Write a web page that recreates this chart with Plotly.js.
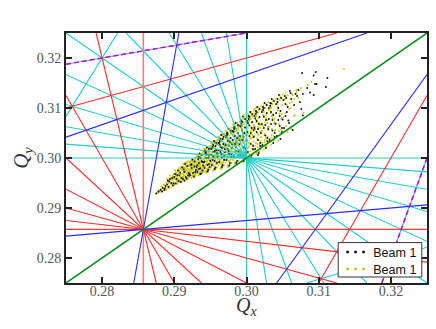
<!DOCTYPE html>
<html>
<head>
<meta charset="utf-8">
<script src="https://cdn.plot.ly/plotly-3.0.1.min.js"></script>
<style>body{margin:0;background:#fff}</style>
</head>
<body>
<div id="plot" style="width:436px;height:329px"></div>
<script>
// Tune footprint, beam 1
var yellowX = [
.2876,.2879,.2881,.2883,.2884,.2886,.2887,.2888,.2889,.2880,.2885,.2878,.2889,.2882,.2887,
.2891,.2893,.2895,.2897,.2899,.2890,.2892,.2894,.2896,.2898,.2891,.2893,.2895,.2897,.2899,.2892,.2894,.2896,.2898,.2900,
.2901,.2903,.2905,.2907,.2909,.2902,.2904,.2906,.2908,.2910,.2901,.2903,.2905,.2907,.2909,.2902,.2904,.2906,.2908,.2910,.2901,.2904,.2906,.2908,.2909,
.2911,.2913,.2915,.2917,.2919,.2912,.2914,.2916,.2918,.2920,.2911,.2913,.2915,.2917,.2919,.2912,.2914,.2916,.2918,.2920,.2911,.2913,.2915,.2917,.2919,.2912,.2914,.2916,.2918,.2920,
.2921,.2923,.2925,.2927,.2929,.2922,.2924,.2926,.2928,.2930,.2921,.2923,.2925,.2927,.2929,.2922,.2924,.2926,.2928,.2930,.2921,.2923,.2925,.2927,.2929,.2922,.2924,.2926,.2928,.2930,.2923,.2927,
.2931,.2933,.2935,.2937,.2939,.2932,.2934,.2936,.2938,.2940,.2931,.2933,.2935,.2937,.2939,.2932,.2934,.2936,.2938,.2940,.2931,.2933,.2935,.2937,.2939,.2932,.2934,.2936,.2938,.2940,.2933,.2935,.2937,.2939,.2934,
.2941,.2943,.2945,.2947,.2949,.2942,.2944,.2946,.2948,.2950,.2941,.2943,.2945,.2947,.2949,.2942,.2944,.2946,.2948,.2950,.2941,.2943,.2945,.2947,.2949,.2942,.2944,.2946,.2948,.2950,.2943,.2945,.2947,.2949,.2946,
.2951,.2953,.2955,.2957,.2959,.2952,.2954,.2956,.2958,.2960,.2951,.2953,.2955,.2957,.2959,.2952,.2954,.2956,.2958,.2960,.2951,.2953,.2955,.2957,.2959,.2952,.2954,.2956,.2958,.2960,.2953,.2955,.2957,.2959,.2954,.2956,.2958,.2952,
.2961,.2963,.2965,.2967,.2969,.2962,.2964,.2966,.2968,.2970,.2961,.2963,.2965,.2967,.2969,.2962,.2964,.2966,.2968,.2970,.2961,.2963,.2965,.2967,.2969,.2962,.2964,.2966,.2968,.2970,.2963,.2965,.2967,.2969,.2964,.2966,.2968,.2962,
.2971,.2973,.2975,.2977,.2979,.2972,.2974,.2976,.2978,.2980,.2971,.2973,.2975,.2977,.2979,.2972,.2974,.2976,.2978,.2980,.2971,.2973,.2975,.2977,.2979,.2972,.2974,.2976,.2978,.2980,.2973,.2975,.2977,.2979,.2974,.2976,.2978,.2972,
.2981,.2983,.2985,.2987,.2989,.2982,.2984,.2986,.2988,.2990,.2981,.2983,.2985,.2987,.2989,.2982,.2984,.2986,.2988,.2990,.2981,.2983,.2985,.2987,.2989,.2982,.2984,.2986,.2988,.2990,.2983,.2985,.2987,.2989,.2984,.2986,
.2991,.2993,.2995,.2997,.2999,.2992,.2994,.2996,.2998,.3000,.2991,.2993,.2995,.2997,.2999,.2992,.2994,.2996,.2998,.3000,.2991,.2993,.2995,.2997,.2999,.2992,.2994,.2996,.2998,.3000,.2993,.2995,.2997,.2999,
.3001,.3003,.3005,.3007,.3009,.3002,.3004,.3006,.3008,.3010,.3001,.3003,.3005,.3007,.3009,.3002,.3004,.3006,.3008,.3010,.3001,.3003,.3005,.3007,.3009,.3002,.3004,.3006,.3008,.3010,
.3011,.3013,.3015,.3017,.3019,.3012,.3014,.3016,.3018,.3020,.3011,.3013,.3015,.3017,.3019,.3012,.3014,.3016,.3018,.3020,.3011,.3013,.3015,.3017,.3019,.3012,.3014,.3016,
.3021,.3023,.3025,.3027,.3029,.3022,.3024,.3026,.3028,.3030,.3021,.3023,.3025,.3027,.3029,.3022,.3024,.3026,.3028,.3030,.3023,.3027,
.3031,.3033,.3035,.3037,.3039,.3032,.3034,.3036,.3038,.3040,.3031,.3033,.3035,.3037,.3039,.3034,.3038,
.3041,.3043,.3045,.3047,.3049,.3042,.3044,.3046,.3048,.3050,.3043,.3047,
.3052,.3055,.3058,.3054,.3057,.3060,.3063,.3066,.3069,.3062,.3072,.3075,.3079,.3085,.3090,.3135,
// second pass over the dense part
.2896,.2899,.2902,.2905,.2908,.2893,.2900,.2903,.2906,.2909,
.2911,.2913,.2915,.2917,.2919,.2912,.2916,.2918,.2914,.2920,.2913,.2917,
.2921,.2923,.2925,.2927,.2929,.2922,.2924,.2926,.2928,.2930,.2921,.2925,.2929,.2923,.2927,
.2931,.2933,.2935,.2937,.2939,.2932,.2934,.2936,.2938,.2940,.2931,.2935,.2939,.2933,.2937,.2936,
.2941,.2943,.2945,.2947,.2949,.2942,.2944,.2946,.2948,.2950,.2941,.2945,.2949,.2943,.2947,.2944,.2948,.2946,
.2951,.2953,.2955,.2957,.2959,.2952,.2954,.2956,.2958,.2960,.2951,.2955,.2959,.2953,.2957,.2954,.2958,.2956,.2952,.2960,
.2961,.2963,.2965,.2967,.2969,.2962,.2964,.2966,.2968,.2970,.2961,.2965,.2969,.2963,.2967,.2964,.2968,.2966,.2962,.2970,
.2971,.2973,.2975,.2977,.2979,.2972,.2974,.2976,.2978,.2980,.2971,.2975,.2979,.2973,.2977,.2974,.2978,.2976,.2972,.2980,
.2981,.2983,.2985,.2987,.2989,.2982,.2984,.2986,.2988,.2990,.2981,.2985,.2989,.2983,.2987,.2984,.2988,.2986,.2982,.2990,
.2991,.2993,.2995,.2997,.2999,.2992,.2994,.2996,.2998,.3000,.2991,.2995,.2999,.2993,.2997,.2994,.2998,.2996,.2992,.3000,
.3001,.3003,.3005,.3007,.3009,.3002,.3004,.3006,.3008,.3010,.3001,.3005,.3009,.3003,.3007,.3004,.3008,.3006,.3002,.3010,
.3011,.3013,.3015,.3017,.3019,.3012,.3014,.3016,.3018,.3020,.3011,.3015,.3019,.3013,.3017,.3014,.3018,.3016,
.3021,.3023,.3025,.3027,.3029,.3022,.3024,.3026,.3028,.3030,.3021,.3025,.3029,.3023,.3027,
.3031,.3033,.3035,.3037,.3039,.3032,.3034,.3036,.3038,.3040,.3031,.3035,
.3041,.3043,.3045,.3047,.3049,.3042,.3044,.3046,.3048,.3050,
.3051,.3053,.3055,.3057,.3059,.3052,.3054,.3056,
.3061,.3064,.3067,.3069,.3063,.3066
];
var yellowY = [
.2931,.2935,.2938,.2934,.2942,.2938,.2946,.2940,.2951,.2932,.2947,.2930,.2936,.2943,.2935,
.2942,.2955,.2948,.2962,.2952,.2958,.2949,.2965,.2941,.2957,.2953,.2944,.2960,.2947,.2968,.2940,.2952,.2956,.2964,.2946,
.2958,.2970,.2951,.2975,.2962,.2966,.2948,.2979,.2955,.2983,.2949,.2961,.2973,.2952,.2978,.2972,.2964,.2957,.2969,.2953,.2976,.2955,.2968,.2982,.2959,
.2956,.2982,.2963,.2990,.2971,.2968,.2953,.2985,.2960,.2994,.2975,.2960,.2978,.2957,.2986,.2988,.2974,.2957,.2979,.2965,.2962,.2972,.2991,.2968,.2961,.2979,.2966,.2972,.2992,.2984,
.2962,.2983,.2970,.2996,.2978,.2990,.2960,.2985,.2966,.3001,.2975,.2993,.2964,.2981,.2998,.2969,.2987,.2976,.2961,.2991,.2986,.2966,.2979,.2972,.2994,.2983,.2995,.2968,.2989,.2973,.2977,.2963,
.2970,.2996,.2980,.3008,.2986,.3003,.2967,.2992,.2975,.3012,.2985,.3006,.2971,.2990,.3009,.2978,.2999,.2968,.2993,.2982,.3002,.2974,.2988,.2997,.2970,.2994,.2983,.3005,.2976,.2991,.3000,.2987,.2973,.2980,.2966,
.2976,.3005,.2988,.3020,.2995,.3014,.2974,.3001,.2982,.3024,.2992,.3017,.2979,.3008,.2986,.2998,.3012,.2972,.3004,.2990,.3019,.2984,.2996,.3010,.2978,.3002,.2971,.2993,.3015,.3006,.2986,.3022,.2980,.2999,.2975,
.2982,.3016,.2993,.3033,.3004,.3025,.2977,.3010,.2988,.3036,.2998,.3028,.2984,.3014,.2992,.3006,.3022,.2976,.3012,.2996,.3030,.2989,.3002,.3019,.2981,.3008,.2974,.3000,.3026,.3017,.2986,.3034,.2979,.3011,.2995,.3021,.3003,.2985,
.2986,.3026,.3000,.3046,.3012,.3036,.2981,.3018,.2992,.3049,.3005,.3040,.2989,.3022,.2998,.3014,.3031,.2979,.3020,.3002,.3043,.2994,.3009,.3028,.2985,.3016,.2978,.3006,.3037,.3024,.2990,.3047,.2983,.3012,.2996,.3033,.3008,.3041,
.2991,.3037,.3008,.3058,.3020,.3048,.2986,.3027,.2997,.3061,.3012,.3052,.2994,.3032,.3004,.3023,.3042,.2983,.3030,.3010,.3055,.3000,.3017,.3039,.2990,.3025,.2982,.3014,.3049,.3035,.2996,.3059,.2988,.3021,.3006,.3045,.3018,.3053,
.2996,.3047,.3015,.3070,.3028,.3060,.2991,.3036,.3003,.3073,.3020,.3064,.3000,.3042,.3011,.3031,.3053,.2989,.3039,.3017,.3067,.3006,.3024,.3050,.2994,.3033,.2988,.3022,.3061,.3045,.3002,.3071,.3029,.3056,.3013,.3037,
.3001,.3058,.3022,.3082,.3036,.3072,.2994,.3045,.3010,.3085,.3028,.3076,.3006,.3052,.3018,.3040,.3064,.2993,.3048,.3024,.3079,.3013,.3032,.3061,.3000,.3043,.2992,.3030,.3073,.3056,.3068,.3020,.3087,.3038,
.3010,.3068,.3031,.3092,.3045,.3082,.3000,.3054,.3018,.3095,.3036,.3086,.3014,.3062,.3026,.3049,.3075,.3003,.3058,.3033,.3089,.3021,.3041,.3071,.3008,.3053,.3002,.3039,.3083,.3066,
.3016,.3077,.3039,.3100,.3053,.3090,.3008,.3062,.3026,.3103,.3044,.3094,.3022,.3071,.3034,.3058,.3084,.3012,.3067,.3042,.3098,.3030,.3049,.3080,.3018,.3063,.3010,.3048,
.3024,.3086,.3048,.3108,.3062,.3098,.3017,.3071,.3035,.3111,.3053,.3102,.3031,.3080,.3043,.3067,.3093,.3022,.3076,.3056,.3105,.3040,
.3033,.3094,.3058,.3116,.3072,.3105,.3026,.3080,.3044,.3119,.3062,.3110,.3040,.3088,.3054,.3100,.3034,
.3042,.3102,.3068,.3123,.3080,.3113,.3035,.3089,.3056,.3127,.3095,.3049,
.3060,.3122,.3075,.3131,.3052,.3110,.3128,.3084,.3136,.3058,.3120,.3140,.3090,.3146,.3152,.3178,
// second pass over the dense part
.2950,.2959,.2964,.2960,.2977,.2958,.2961,.2953,.2974,.2967,
.2969,.2987,.2975,.2982,.2958,.2963,.2990,.2974,.2981,.2977,.2966,.2976,
.2971,.2989,.2994,.2966,.2985,.2978,.2974,.2992,.2981,.2965,.2992,.2983,.2968,.2974,.2987,
.2990,.2984,.2968,.3001,.2992,.3006,.2991,.3002,.2972,.2997,.2977,.2995,.3008,.2975,.2982,.2985,
.2984,.3009,.2992,.3016,.3000,.2982,.3012,.2988,.3020,.3006,.2972,.2994,.3010,.3002,.2978,.3018,.2996,.2986,
.2992,.3021,.3006,.2998,.3014,.2987,.3031,.3010,.2990,.3027,.3018,.2984,.3034,.3003,.3024,.2996,.3006,.3032,.3025,.3012,
.3004,.3034,.2992,.3020,.3044,.2998,.3024,.3038,.3008,.3018,.3030,.3010,.3002,.3042,.2990,.3016,.3027,.2984,.3035,.3022,
.3006,.3044,.3026,.2990,.3052,.3016,.3034,.3008,.3050,.3026,.3040,.3002,.3056,.3022,.2994,.3046,.3012,.3030,.3038,.3019,
.3024,.3054,.3010,.3040,.3064,.3006,.3030,.3058,.3016,.3044,.3052,.3020,.3066,.3000,.3036,.2992,.3060,.3026,.3048,.3014,
.3030,.3064,.3010,.3050,.3074,.3016,.3040,.3068,.3004,.3056,.3034,.3078,.3020,.3060,.2996,.3046,.3026,.3070,.3012,.3052,
.3036,.3074,.3048,.3086,.3016,.3060,.3024,.3090,.3042,.3066,.3012,.3082,.3054,.3030,.3070,.3008,.3046,.3078,.3020,.3062,
.3044,.3082,.3028,.3096,.3060,.3024,.3072,.3090,.3014,.3052,.3086,.3036,.3066,.3100,.3046,.3076,.3020,.3058,
.3054,.3092,.3036,.3106,.3070,.3030,.3082,.3100,.3024,.3062,.3096,.3046,.3076,.3064,.3086,
.3062,.3100,.3046,.3114,.3078,.3038,.3090,.3108,.3070,.3056,.3096,.3084,
.3070,.3108,.3054,.3120,.3088,.3044,.3098,.3116,.3078,.3106,
.3082,.3118,.3064,.3126,.3098,.3116,.3090,.3106,
.3100,.3126,.3086,.3132,.3112,.3118
];

var blackX = [
.2875,.2878,.2881,.2884,.2886,.2888,.2883,.2887,
.2890,.2892,.2894,.2896,.2898,.2900,.2893,.2897,.2899,.2891,
.2902,.2904,.2906,.2908,.2910,.2903,.2907,.2905,.2909,.2901,
.2912,.2914,.2916,.2918,.2920,.2913,.2917,.2915,.2919,.2911,.2914,
.2922,.2924,.2926,.2928,.2930,.2923,.2927,.2925,.2929,.2921,.2924,.2928,
.2932,.2934,.2936,.2938,.2940,.2933,.2937,.2935,.2939,.2931,.2934,.2938,.2936,
.2942,.2944,.2946,.2948,.2950,.2943,.2947,.2945,.2949,.2941,.2944,.2948,.2946,.2942,
.2952,.2954,.2956,.2958,.2960,.2953,.2957,.2955,.2959,.2951,.2954,.2958,.2956,.2952,.2960,
.2962,.2964,.2966,.2968,.2970,.2963,.2967,.2965,.2969,.2961,.2964,.2968,.2966,.2962,.2970,.2965,
.2972,.2974,.2976,.2978,.2980,.2973,.2977,.2975,.2979,.2971,.2974,.2978,.2976,.2972,.2980,.2975,
.2982,.2984,.2986,.2988,.2990,.2983,.2987,.2985,.2989,.2981,.2984,.2988,.2986,.2982,.2990,.2985,
.2992,.2994,.2996,.2998,.3000,.2993,.2997,.2995,.2999,.2991,.2994,.2998,.2996,.2992,.3000,
.3002,.3004,.3006,.3008,.3010,.3003,.3007,.3005,.3009,.3001,.3004,.3008,.3006,.3002,.3010,
.3012,.3014,.3016,.3018,.3020,.3013,.3017,.3015,.3019,.3011,.3014,.3018,.3016,.3012,
.3022,.3024,.3026,.3028,.3030,.3023,.3027,.3025,.3029,.3021,.3024,.3028,
.3032,.3034,.3036,.3038,.3040,.3033,.3037,.3035,.3039,.3031,.3034,
.3042,.3044,.3046,.3048,.3050,.3043,.3047,.3045,.3049,.3041,
.3052,.3055,.3058,.3061,.3064,.3054,.3060,.3072,.3078,.3084,.3068,.3076,.3088,.3095,.3093,.3077,.3097,.3110,.3096,.3112,.3093,
// second pass
.2932,.2936,.2939,.2934,
.2942,.2945,.2948,.2943,.2947,
.2951,.2954,.2957,.2959,.2953,.2956,
.2961,.2964,.2967,.2969,.2963,.2966,
.2971,.2974,.2977,.2979,.2973,.2976,
.2981,.2984,.2987,.2989,.2983,.2986,
.2991,.2994,.2997,.2999,.2993,.2996,
.3001,.3004,.3007,.3009,.3003,.3006,
.3011,.3014,.3017,.3019,.3013,.3016,
.3021,.3024,.3027,.3029,.3023,.3026,
.3031,.3034,.3037,.3039,.3033,.3036,
.3041,.3044,.3047,.3049,.3043,.3046,
.3051,.3054,.3057,.3059,.3053,.3056,
.3062,.3066,.3070,.3074,.3078
];
var blackY = [
.2929,.2933,.2936,.2940,.2936,.2944,.2933,.2939,
.2947,.2942,.2958,.2950,.2945,.2962,.2953,.2960,.2949,.2955,
.2949,.2966,.2954,.2971,.2960,.2958,.2965,.2975,.2952,.2968,
.2958,.2972,.2962,.2984,.2970,.2977,.2959,.2988,.2965,.2981,.2955,
.2965,.2980,.2970,.2993,.2976,.2986,.2963,.2997,.2972,.2968,.2988,.2983,
.2972,.2990,.2979,.3006,.2985,.2998,.2969,.3009,.2975,.2982,.3002,.2994,.2968,
.2980,.3000,.2986,.3018,.2994,.3010,.2976,.3021,.2982,.2991,.3012,.3005,.2973,.3015,
.2986,.3012,.2994,.3030,.3002,.3022,.2981,.3034,.2990,.3006,.3026,.3016,.2978,.3020,.3009,
.2992,.3022,.3001,.3042,.3012,.3034,.2986,.3046,.2996,.3016,.3038,.3028,.2982,.3030,.3018,.3008,
.2996,.3034,.3008,.3054,.3020,.3046,.2990,.3058,.3002,.3026,.3049,.3040,.2985,.3042,.3028,.3014,
.3002,.3044,.3014,.3066,.3027,.3058,.2994,.3070,.3006,.3036,.3060,.3050,.2990,.3052,.3036,.3022,
.3006,.3055,.3021,.3078,.3034,.3068,.2998,.3083,.3011,.3044,.3072,.3061,.2994,.3063,.3046,
.3012,.3065,.3028,.3088,.3042,.3078,.3005,.3092,.3018,.3052,.3082,.3072,.3000,.3070,.3056,
.3018,.3074,.3036,.3098,.3050,.3088,.3010,.3102,.3024,.3060,.3092,.3082,.3006,.3079,
.3026,.3083,.3045,.3106,.3058,.3096,.3020,.3110,.3033,.3068,.3100,.3090,
.3036,.3092,.3055,.3114,.3068,.3104,.3030,.3118,.3042,.3078,.3109,
.3044,.3100,.3064,.3120,.3077,.3112,.3038,.3126,.3052,.3090,
.3060,.3120,.3075,.3130,.3056,.3108,.3134,.3136,.3085,.3140,.3128,.3098,.3131,.3148,.3126,.3170,.3148,.3142,.3172,.3160,.3165,
// second pass
.2986,.3000,.2992,.2978,
.2993,.3007,.2988,.3014,.3000,
.3018,.3002,.3024,.3010,.2996,.3014,
.3030,.3012,.3038,.3004,.3026,.3020,
.3044,.3018,.3032,.3008,.3050,.3024,
.3054,.3028,.3040,.3012,.3062,.3032,
.3064,.3036,.3050,.3018,.3074,.3042,
.3074,.3044,.3060,.3024,.3084,.3050,
.3084,.3052,.3068,.3030,.3094,.3058,
.3092,.3060,.3076,.3040,.3102,.3066,
.3100,.3068,.3086,.3050,.3110,.3076,
.3108,.3076,.3094,.3060,.3118,.3084,
.3116,.3084,.3102,.3070,.3124,.3092,
.3118,.3106,.3124,.3112,.3128
];

// Resonance lines as pairs of end points on the frame, gaps between them
var cyanX = [
.275,.325,null,.275,.325,null,.275,.325,null,.275,.325,null,.275,.325,null,
.28333,.31667,null,.28929,.31071,null,.29375,.30625,null,.29722,.30278,null,
.3,.3,null,.275,.325,null,.275,.28214,null,.30833,.325,null,.275,.3,null,.31875,.325];
var cyanY = [
.30278,.29722,null,.30625,.29375,null,.31071,.28929,null,.31667,.28333,null,.325,.275,null,
.325,.275,null,.325,.275,null,.325,.275,null,.325,.275,null,
.275,.325,null,.3,.3,null,.30833,.325,null,.275,.28214,null,.31875,.325,null,.275,.3];

var redX = [
.275,.325,null,.275,.3125,null,.275,.3,null,.275,.29375,null,.275,.29,null,.27917,.2875,null,
.275,.3125,null,.31,.325];
var redY = [
.2875,.27917,null,.29,.275,null,.29375,.275,null,.3,.275,null,.3125,.275,null,.325,.275,null,
.31,.325,null,.275,.3125];

// the two straight red lines sit across pixel rows and come out paler and wider
var redUprightX = [.28571,.28571];
var redUprightY = [.275,.325];
var redLevelX = [.275,.325];
var redLevelY = [.28571,.28571];

var blueX = [.275,.325,null,.28438,.29063,null,.275,.31667,null,.30417,.325];
var blueY = [.28438,.29063,null,.275,.325,null,.30417,.325,null,.275,.31667];

var magentaX = [.275,.3,null,.31875,.325];
var magentaY = [.31875,.325,null,.275,.3];

var greenX = [.275,.325];
var greenY = [.275,.325];

var tickVals = [0.28, 0.29, 0.30, 0.31, 0.32];
var tickText = ['0.28', '0.29', '0.30', '0.31', '0.32'];
var legendNames = ['Beam 1', 'Beam 1'];

function lineTrace(x, y, color, width, dash) {
    return {
        x: x, y: y, mode: 'lines', type: 'scatter', hoverinfo: 'skip', showlegend: false,
        line: { color: color, width: width, dash: dash || 'solid' }
    };
}

// empty trace, only there for its legend row: the dashed line gives the three dots
function legendTrace(name, color, legendId) {
    return {
        x: [null], y: [null], mode: 'lines', type: 'scatter', name: name, legend: legendId,
        line: { color: color, width: 2.6, dash: '0px,8px,2.6px,5.4px,2.6px,5.4px,2.6px,100px' }
    };
}

var traces = [
    { x: yellowX, y: yellowY, mode: 'markers', type: 'scatter', showlegend: false, marker: { color: '#c8c800', size: 1.8 } },
    { x: blackX, y: blackY, mode: 'markers', type: 'scatter', showlegend: false, marker: { color: '#111', size: 1.9 } },
    lineTrace(cyanX, cyanY, '#22cccc', 1.1),
    lineTrace(redX, redY, '#ff2a2a', 1.1),
    lineTrace(redUprightX, redUprightY, '#ff7a7a', 1.6),
    lineTrace(redLevelX, redLevelY, '#ff3a3a', 1.3),
    lineTrace(blueX, blueY, '#2a2aff', 1.1),
    lineTrace(magentaX, magentaY, '#cc00cc', 1.5, '5px,3px'),
    lineTrace(greenX, greenY, '#0a8a1a', 1.5),
    legendTrace(legendNames[0], '#111', 'legend'),
    legendTrace(legendNames[1], '#c8c800', 'legend2')
];

function axis() {
    return {
        range: [0.275, 0.325],
        tickvals: tickVals,
        ticktext: tickText,
        ticks: 'inside',
        ticklen: 6,
        tickwidth: 2,
        tickcolor: '#222',
        showgrid: false,
        zeroline: false,
        showline: true,
        linewidth: 2,
        linecolor: '#222',
        mirror: 'allticks',
        tickfont: { family: 'Liberation Serif', size: 14, color: '#555' }
    };
}

function legendBox(y) {
    return {
        x: 0.7403, y: y, xanchor: 'left', yanchor: 'middle',
        bgcolor: 'rgba(0,0,0,0)', borderwidth: 0,
        font: { family: 'Liberation Sans', size: 12.5, color: '#111' }
    };
}

var titleFont = { family: 'Liberation Serif', size: 21, color: '#333' };

var layout = {
    width: 436,
    height: 329,
    margin: { l: 65.6, r: 9.2, t: 32.7, b: 46.3 },
    paper_bgcolor: '#fff',
    plot_bgcolor: '#fff',
    showlegend: true,
    legend: legendBox(0.1228),
    legend2: legendBox(0.0548),
    xaxis: Object.assign(axis(), { ticklabelstandoff: -6 }),
    yaxis: Object.assign(axis(), { title: { text: '<i>Q</i><sub><i>y</i></sub>', font: titleFont, standoff: 2 } }),
    // white box behind the two legend rows
    shapes: [{
        type: 'rect', xref: 'x', yref: 'y', layer: 'above',
        x0: 0.3127, x1: 0.32428, y0: 0.2762, y1: 0.28308,
        fillcolor: '#fff', line: { color: '#333', width: 1 }
    }],
    // an axis title cannot come this close to the tick labels
    annotations: [{
        x: 0.3, xref: 'x', y: 0, yref: 'paper', yanchor: 'middle', yshift: -23,
        text: '<i>Q</i><sub><i>x</i></sub>', showarrow: false,
        font: { family: 'Liberation Serif', size: 20, color: '#333' }
    }]
};

Plotly.newPlot('plot', traces, layout, { displayModeBar: false });
</script>
</body>
</html>
